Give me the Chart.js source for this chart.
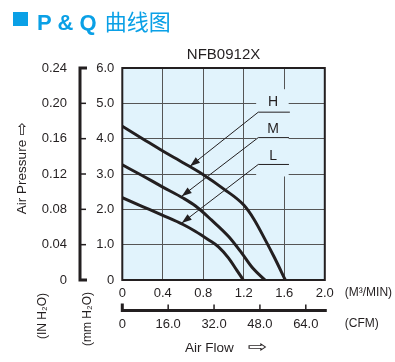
<!DOCTYPE html>
<html>
<head>
<meta charset="utf-8">
<script src="https://cdn.jsdelivr.net/npm/chart.js@4.4.1/dist/chart.umd.min.js"></script>
<style>
  body { margin: 0; background: #fff; }
  #wrap { position: relative; width: 395px; height: 362px; }
  canvas { position: absolute; left: 0; top: 0; }
  #head { position: absolute; left: 0; top: 0; width: 395px; height: 40px; color: #0aa0e6; }
  #head .sq { position: absolute; left: 13px; top: 12px; width: 15px; height: 14px; background: #0aa0e6; }
  #head .txt { position: absolute; left: 37px; top: 4px; white-space: nowrap;
               font: bold 22px "Liberation Sans", Arial, sans-serif; line-height: 30px; }
  #head .cjk { font: 22px "Noto Sans CJK SC", sans-serif; margin-left: 2px; }
</style>
</head>
<body>
<div id="wrap">
  <canvas id="pq" width="395" height="362"></canvas>
  <div id="head"><span class="sq"></span><div class="txt">P &amp; Q <span class="cjk">曲线图</span></div></div>
</div>
<script>
// P-Q curves, flow in M3/MIN, pressure in mmH2O
const flowH  = [0, 0.2, 0.4, 0.6, 0.8, 1.0, 1.2, 1.3, 1.4, 1.5, 1.61];
const pressH = [4.35, 4.0, 3.65, 3.32, 2.98, 2.58, 2.12, 1.72, 1.2, 0.65, 0];
const flowM  = [0, 0.2, 0.4, 0.6, 0.72, 0.88, 1.05, 1.18, 1.29, 1.41];
const pressM = [3.26, 2.95, 2.63, 2.32, 2.1, 1.7, 1.23, 0.76, 0.33, 0];
const flowL  = [0, 0.2, 0.4, 0.6, 0.72, 0.85, 0.95, 1.05, 1.13, 1.195];
const pressL = [2.33, 2.08, 1.83, 1.57, 1.38, 1.14, 0.94, 0.62, 0.28, 0];
const speeds = ["H", "M", "L"];

// axis ticks
const flowTicks = [0, 0.4, 0.8, 1.2, 1.6, 2.0];
const flowTickLabels = ["0", "0.4", "0.8", "1.2", "1.6", "2.0"];
const cfmTicks = [0, 16, 32, 48, 64];
const cfmTickLabels = ["0", "16.0", "32.0", "48.0", "64.0"];
const mmTicks = [0, 1, 2, 3, 4, 5, 6];
const mmTickLabels = ["0", "1.0", "2.0", "3.0", "4.0", "5.0", "6.0"];
const inTicks = [0, 0.04, 0.08, 0.12, 0.16, 0.20, 0.24];
const inTickLabels = ["0", "0.04", "0.08", "0.12", "0.16", "0.20", "0.24"];

const CFM_PER_M3 = 35.315;
const ink = "#231f20";
const plotBg = "#e1f3fc";
const gridColor = "#555555";
const font = "'Liberation Sans', Arial, 'DejaVu Sans', sans-serif";

// callouts in data units (flow, mmH2O)
const callouts = [
  { text: "H", label: [1.49, 5.02], start: [1.655, 4.75], corner: [1.343, 4.75], tip: [0.669, 3.22] },
  { text: "M", label: [1.49, 4.26], start: [1.646, 4.03], corner: [1.343, 4.03], tip: [0.587, 2.37] },
  { text: "L", label: [1.49, 3.50], start: [1.646, 3.27], corner: [1.343, 3.27], tip: [0.587, 1.61] }
];
const calloutBox = { x0: 1.322, x1: 1.643, y0: 2.93, y1: 5.40 };

function points(xs, ys) {
  return xs.map((x, i) => ({ x: x, y: ys[i] }));
}

function setTicks(values) {
  return scale => { scale.ticks = values.map(v => ({ value: v })); };
}

function vText(ctx, text, x, y, f) {
  ctx.save();
  ctx.translate(x, y);
  ctx.rotate(-Math.PI / 2);
  ctx.font = f;
  ctx.textAlign = "center";
  ctx.textBaseline = "middle";
  ctx.fillText(text, 0, 0);
  ctx.restore();
}

const pqPlugin = {
  id: "pqDraw",
  beforeDraw(chart) {
    const { ctx, chartArea: a } = chart;
    ctx.save();
    ctx.fillStyle = plotBg;
    ctx.fillRect(a.left, a.top, a.width, a.height);
    ctx.restore();
  },
  beforeDatasetsDraw(chart) {
    // box behind the H/M/L labels hides the grid
    const { ctx, scales: { x, y } } = chart;
    const x0 = x.getPixelForValue(calloutBox.x0), x1 = x.getPixelForValue(calloutBox.x1);
    const y0 = y.getPixelForValue(calloutBox.y1), y1 = y.getPixelForValue(calloutBox.y0);
    ctx.save();
    ctx.fillStyle = plotBg;
    ctx.fillRect(x0, y0, x1 - x0, y1 - y0);
    ctx.restore();
  },
  afterDatasetsDraw(chart) {
    const { ctx, scales: { x, y } } = chart;
    ctx.save();
    ctx.strokeStyle = ink;
    ctx.fillStyle = ink;
    callouts.forEach(c => {
      const sx = x.getPixelForValue(c.start[0]), sy = y.getPixelForValue(c.start[1]);
      const cx = x.getPixelForValue(c.corner[0]), cy = y.getPixelForValue(c.corner[1]);
      const tx = x.getPixelForValue(c.tip[0]), ty = y.getPixelForValue(c.tip[1]);
      ctx.lineWidth = 1;
      ctx.beginPath();
      ctx.moveTo(sx, sy);
      ctx.lineTo(cx, cy);
      ctx.lineTo(tx, ty);
      ctx.stroke();
      // arrow head
      const ang = Math.atan2(ty - cy, tx - cx);
      const len = 10, half = 3.5;
      const bx = tx - len * Math.cos(ang), by = ty - len * Math.sin(ang);
      ctx.beginPath();
      ctx.moveTo(tx, ty);
      ctx.lineTo(bx + half * Math.sin(ang), by - half * Math.cos(ang));
      ctx.lineTo(bx - half * Math.sin(ang), by + half * Math.cos(ang));
      ctx.closePath();
      ctx.fill();
      ctx.font = "14px " + font;
      ctx.textAlign = "center";
      ctx.textBaseline = "middle";
      ctx.fillText(c.text, x.getPixelForValue(c.label[0]), y.getPixelForValue(c.label[1]));
    });
    ctx.restore();
  },
  afterDraw(chart) {
    const { ctx, chartArea: a, scales } = chart;
    ctx.save();
    ctx.strokeStyle = ink;
    ctx.fillStyle = ink;

    // plot frame
    ctx.lineWidth = 2;
    ctx.strokeRect(a.left, a.top, a.width, a.height);

    // inH2O bracket
    const s2 = scales.y2;
    const bx = s2.right;
    const yTop = s2.getPixelForValue(inTicks[inTicks.length - 1]);
    const yBot = s2.getPixelForValue(inTicks[0]);
    ctx.lineWidth = 3;
    ctx.lineJoin = "miter";
    ctx.beginPath();
    ctx.moveTo(bx + 7, yTop);
    ctx.lineTo(bx, yTop);
    ctx.lineTo(bx, yBot);
    ctx.lineTo(bx + 7, yBot);
    ctx.stroke();
    ctx.lineWidth = 1.5;
    inTicks.slice(1, -1).forEach(v => {
      const py = s2.getPixelForValue(v);
      ctx.beginPath();
      ctx.moveTo(bx, py);
      ctx.lineTo(bx + 6, py);
      ctx.stroke();
    });

    // CFM bracket
    const c2 = scales.x2;
    const by = c2.top + 8.5;
    const xL = c2.getPixelForValue(0);
    const xR = scales.x.getPixelForValue(2.0) + 2;
    ctx.lineWidth = 3;
    ctx.beginPath();
    ctx.moveTo(xL, by - 7);
    ctx.lineTo(xL, by);
    ctx.lineTo(xR, by);
    ctx.stroke();
    ctx.lineWidth = 1.5;
    cfmTicks.slice(1).forEach(v => {
      const px = c2.getPixelForValue(v);
      ctx.beginPath();
      ctx.moveTo(px, by);
      ctx.lineTo(px, by - 6);
      ctx.stroke();
    });

    // texts
    ctx.font = "15px " + font;
    ctx.textAlign = "center";
    ctx.textBaseline = "alphabetic";
    ctx.fillText("NFB0912X", (a.left + a.right) / 2, a.top - 9);

    ctx.font = "12px " + font;
    ctx.textAlign = "left";
    ctx.textBaseline = "middle";
    ctx.fillText("(M³/MIN)", a.right + 20, 293);
    ctx.fillText("(CFM)", a.right + 20, 324);

    vText(ctx, "Air Pressure", 22.5, 177, "13.5px " + font);
    vText(ctx, "⇨", 22.5, 128.5, "16px 'DejaVu Sans', sans-serif");
    vText(ctx, "(IN H₂O)", 43, 316, "12px " + font);
    vText(ctx, "(mm H₂O)", 88, 319, "12px " + font);

    ctx.font = "13.5px " + font;
    ctx.textAlign = "left";
    ctx.fillText("Air Flow", 185, 348);
    ctx.save();
    ctx.translate(258, 348);
    ctx.scale(1.5, 1);
    ctx.font = "16px 'DejaVu Sans', sans-serif";
    ctx.textAlign = "center";
    ctx.fillText("⇨", 0, 0);
    ctx.restore();

    ctx.restore();
  }
};

const tickFont = { family: font, size: 13 };

new Chart(document.getElementById("pq"), {
  type: "line",
  data: {
    datasets: [
      { label: speeds[0], data: points(flowH, pressH) },
      { label: speeds[1], data: points(flowM, pressM) },
      { label: speeds[2], data: points(flowL, pressL) }
    ]
  },
  options: {
    responsive: false,
    animation: false,
    devicePixelRatio: 1,
    layout: { padding: { left: 0, right: 70.2, top: 68, bottom: 20 } },
    elements: {
      line: { borderColor: ink, borderWidth: 3, cubicInterpolationMode: "monotone" },
      point: { radius: 0 }
    },
    plugins: { legend: { display: false }, tooltip: { enabled: false } },
    scales: {
      x: {
        type: "linear", position: "bottom", weight: 0, min: 0, max: 2.0,
        afterBuildTicks: setTicks(flowTicks),
        afterFit: s => { s.height = 22; },
        ticks: { callback: (v, i) => flowTickLabels[i], font: tickFont, color: ink, padding: 6, autoSkip: false, maxRotation: 0 },
        grid: { color: gridColor, lineWidth: 1, drawTicks: false, tickLength: 0 },
        border: { display: false }
      },
      x2: {
        type: "linear", position: "bottom", weight: 1, min: 0, max: 2.0 * CFM_PER_M3,
        afterBuildTicks: setTicks(cfmTicks),
        afterFit: s => { s.height = 40; },
        ticks: { callback: (v, i) => cfmTickLabels[i], font: tickFont, color: ink, padding: 15, autoSkip: false, maxRotation: 0 },
        grid: { display: false, drawTicks: false, tickLength: 0 },
        border: { display: false }
      },
      y: {
        type: "linear", position: "left", weight: 0, min: 0, max: 6,
        afterBuildTicks: setTicks(mmTicks),
        afterFit: s => { s.width = 42.3; },
        ticks: { callback: (v, i) => mmTickLabels[i], font: tickFont, color: ink, padding: 8, autoSkip: false },
        grid: { color: gridColor, lineWidth: 1, drawTicks: false, tickLength: 0 },
        border: { display: false }
      },
      y2: {
        type: "linear", position: "left", weight: 1, min: 0, max: 0.24,
        afterBuildTicks: setTicks(inTicks),
        afterFit: s => { s.width = 80; },
        ticks: { callback: (v, i) => inTickLabels[i], font: tickFont, color: ink, padding: 13, autoSkip: false },
        grid: { display: false, drawTicks: false, tickLength: 0 },
        border: { display: false }
      }
    }
  },
  plugins: [pqPlugin]
});
</script>
</body>
</html>
